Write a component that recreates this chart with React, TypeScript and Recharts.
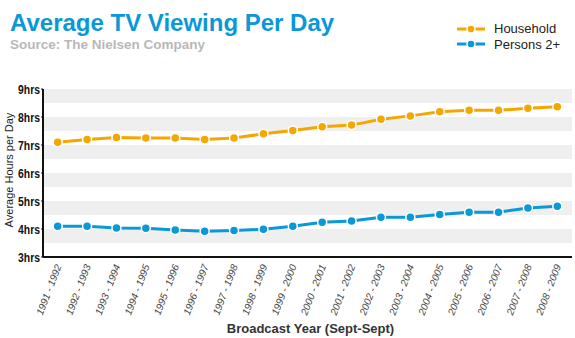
import { Line, LineChart, ReferenceArea, XAxis, YAxis } from "recharts";

const years = [
  "1991 - 1992", "1992 - 1993", "1993 - 1994", "1994 - 1995", "1995 - 1996", "1996 - 1997",
  "1997 - 1998", "1998 - 1999", "1999 - 2000", "2000 - 2001", "2001 - 2002", "2002 - 2003",
  "2003 - 2004", "2004 - 2005", "2005 - 2006", "2006 - 2007", "2007 - 2008", "2008 - 2009",
];
const household = [7.1, 7.2, 7.27, 7.25, 7.25, 7.2, 7.25, 7.4, 7.52, 7.65, 7.71, 7.92, 8.04, 8.19, 8.24, 8.24, 8.31, 8.37];
const persons = [4.1, 4.1, 4.04, 4.03, 3.96, 3.92, 3.95, 3.99, 4.1, 4.24, 4.29, 4.42, 4.42, 4.52, 4.6, 4.6, 4.75, 4.81];
const hourTicks = [3, 4, 5, 6, 7, 8, 9];
const bandTops = [4, 5, 6, 7, 8, 9];

const ORANGE = "#f4a700";
const BLUE = "#0a98d6";
const FONT = "'Liberation Sans', Arial, sans-serif";

const data = years.map((year, i) => ({ year, household: household[i], persons: persons[i] }));

const legendItems = [
  { name: "Household", color: ORANGE },
  { name: "Persons 2+", color: BLUE },
];

function YearTick({ x, y, payload }: { x?: number; y?: number; payload?: { value: string } }) {
  return (
    <text
      transform={`translate(${(x ?? 0) + 4},${(y ?? 0) + 7}) rotate(-69)`}
      textAnchor="end"
      fontSize={10}
      fontStyle="italic"
      fill="#444"
      fontFamily={FONT}
    >
      {payload?.value}
    </text>
  );
}

function HourTick({ x, y, payload }: { x?: number; y?: number; payload?: { value: number } }) {
  return (
    <text
      transform={`translate(${(x ?? 0) - 1},${(y ?? 0) + 4.5}) scale(0.8,1)`}
      textAnchor="end"
      fontSize={13}
      fontWeight={700}
      fill="#111"
      fontFamily={FONT}
    >
      {`${payload?.value}hrs`}
    </text>
  );
}

export default function App() {
  return (
    <div style={{ position: "relative", width: 575, height: 338, background: "#fff", fontFamily: FONT }}>
      <style>{`body{margin:0}`}</style>
      <div style={{ position: "absolute", left: 10, top: 9, fontSize: 24, fontWeight: 700, color: BLUE, lineHeight: "28px", whiteSpace: "nowrap" }}>
        Average TV Viewing Per Day
      </div>
      <div style={{ position: "absolute", left: 10, top: 37, fontSize: 13.5, fontWeight: 700, color: "#b8b8b8", lineHeight: "16px", whiteSpace: "nowrap" }}>
        Source: The Nielsen Company
      </div>
      <div style={{ position: "absolute", left: 457, top: 21 }}>
        {legendItems.map((it) => (
          <div key={it.name} style={{ display: "flex", alignItems: "center", height: 15.5 }}>
            <svg width={28} height={10} style={{ marginRight: 9 }}>
              <line x1={0} y1={5} x2={28} y2={5} stroke={it.color} strokeWidth={3} />
              <circle cx={14} cy={5} r={4} fill={it.color} stroke="#fff" strokeWidth={1.5} />
            </svg>
            <span style={{ fontSize: 13, color: "#222" }}>{it.name}</span>
          </div>
        ))}
      </div>
      <div
        style={{
          position: "absolute", left: 9, top: 170, fontSize: 11, color: "#222",
          transform: "translate(-50%, -50%) rotate(-90deg)", whiteSpace: "nowrap",
        }}
      >
        Average Hours per Day
      </div>
      <div style={{ position: "absolute", left: 0, top: 0 }}>
        <LineChart width={575} height={338} data={data} margin={{ top: 89, right: 3, bottom: 21, left: 3 }}>
          {bandTops.map((h) => (
            <ReferenceArea key={h} y1={h - 0.5} y2={h} fill="#efefef" fillOpacity={1} stroke="none" />
          ))}
          <XAxis
            dataKey="year"
            scale="band"
            interval={0}
            height={60}
            tick={<YearTick />}
            tickLine={false}
            tickSize={0}
            axisLine={{ stroke: "#111", strokeWidth: 2 }}
            label={{ value: "Broadcast Year (Sept-Sept)", position: "insideBottom", offset: -16, dx: 3, fontSize: 13, fontWeight: 700, fill: "#333", fontFamily: FONT }}
          />
          <YAxis
            domain={[3, 9]}
            ticks={hourTicks}
            width={40}
            tick={<HourTick />}
            tickSize={2}
            tickMargin={0}
            tickLine={{ stroke: "#111" }}
            axisLine={{ stroke: "#111", strokeWidth: 2 }}
          />
          <Line
            dataKey="household"
            name="Household"
            stroke={ORANGE}
            strokeWidth={3}
            dot={{ r: 4.5, fill: ORANGE, stroke: "#fff", strokeWidth: 1.5 }}
            activeDot={false}
            isAnimationActive={false}
          />
          <Line
            dataKey="persons"
            name="Persons 2+"
            stroke={BLUE}
            strokeWidth={3}
            dot={{ r: 4.5, fill: BLUE, stroke: "#fff", strokeWidth: 1.5 }}
            activeDot={false}
            isAnimationActive={false}
          />
        </LineChart>
      </div>
    </div>
  );
}
